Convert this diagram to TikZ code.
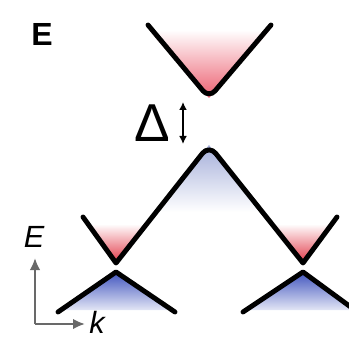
\documentclass[tikz,border=0pt]{standalone}
\usepackage{fontspec}
\setmainfont{Liberation Sans}
\usetikzlibrary{arrows.meta}
\definecolor{conered}{RGB}{236,95,112}
\definecolor{humpblue}{RGB}{165,175,218}
\definecolor{diracred}{RGB}{225,55,70}
\definecolor{diracblue}{RGB}{65,85,190}
\definecolor{axisgray}{RGB}{105,105,105}

\begin{document}
\begin{tikzpicture}[x=0.75pt, y=-0.75pt,
    band/.style={line width=3.7pt, line cap=round, line join=round},
    gap/.style={draw, line width=1.5pt, {Latex[length=6pt,width=6pt]}-{Latex[length=6pt,width=6pt]}},
    axis/.style={draw=axisgray, line width=2.2pt, -{Latex[length=9pt,width=8pt]}},
    label/.style={font=\fontsize{23}{23}\selectfont\itshape}
    ]
    \useasboundingbox (0,0) rectangle (349,338);
    \clip (0,0) rectangle (349,338);

    % shaded bands
    \shade [top color=white, bottom color=conered] (148,30) -- (209,98) -- (271,30) -- cycle;
    \shade [top color=humpblue, bottom color=white] (158,212) -- (209,145) -- (260,212) -- cycle;
    \shade [top color=white, bottom color=diracred] (88,224) -- (116,263) -- (147,224) -- cycle;
    \shade [top color=white, bottom color=diracred] (272,224) -- (303,263) -- (332,224) -- cycle;
    \shade [top color=diracblue, bottom color=diracblue!15] (64,310) -- (116,272) -- (171,310) -- cycle;
    \shade [top color=diracblue, bottom color=diracblue!15] (247,310) -- (303,272) -- (355,310) -- cycle;

    % bands
    \draw [band] (148,25) [rounded corners=7pt] -- (209,98) [sharp corners] -- (271,25);
    \draw [band] (83,217) -- (116,263) [rounded corners=8pt] -- (209,145) [sharp corners] -- (303,263) -- (337,217);
    \draw [band] (58,312) -- (116,272) -- (175,312);
    \draw [band] (243,312) -- (303,272) -- (363,316);

    % gap
    \node (delta) at (152,123) {\fontsize{40}{40}\selectfont Δ};
    \coordinate (gaptop) at (183,102);
    \coordinate (gapbot) at (183,144);
    \draw [gap] (gaptop) -- (gapbot);

    % axes
    \coordinate (origin) at (35,324);
    \coordinate (eaxis) at (35,258);
    \coordinate (kaxis) at (85,324);
    \draw [axis] (origin) -- (eaxis);
    \draw [axis] (origin) -- (kaxis);
    \node [label] (elabel) at (34,237) {E};
    \node [label] (klabel) at (97,322) {k};

    \node (panel) at (42,34) {\fontsize{24}{24}\selectfont\bfseries E};
\end{tikzpicture}
\end{document}
